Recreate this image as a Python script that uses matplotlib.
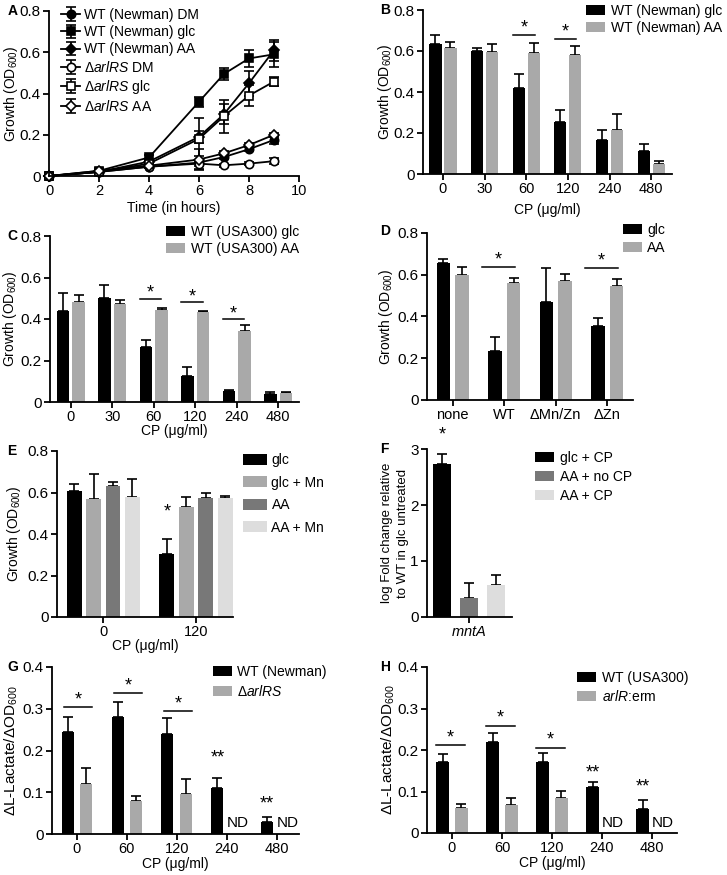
import numpy as np
import matplotlib
matplotlib.use('Agg')
import matplotlib.pyplot as plt
from matplotlib.ticker import FixedLocator, FuncFormatter

plt.rcParams['font.family'] = ['Liberation Sans', 'DejaVu Sans']
plt.rcParams['mathtext.fontset'] = 'custom'
plt.rcParams['mathtext.rm'] = 'Liberation Sans'
plt.rcParams['mathtext.it'] = 'Liberation Sans:italic'
plt.rcParams['mathtext.bf'] = 'Liberation Sans:bold'

# ---- A: growth curves ----
hours = [0, 2, 4, 6, 7, 8, 9]
wt_dm = [0, 0.02, 0.045, 0.065, 0.092, 0.13, 0.175]
wt_dm_err = [0, 0.005, 0.005, 0.03, 0.01, 0.01, 0.02]
wt_glc = [0, 0.025, 0.09, 0.36, 0.495, 0.57, 0.59]
wt_glc_err = [0, 0.005, 0.01, 0.025, 0.03, 0.04, 0.06]
wt_aa = [0, 0.02, 0.07, 0.19, 0.30, 0.45, 0.61]
wt_aa_err = [0, 0.005, 0.01, 0.03, 0.05, 0.06, 0.05]
mut_dm = [0, 0.02, 0.045, 0.06, 0.052, 0.06, 0.072]
mut_dm_err = [0, 0.005, 0.005, 0.01, 0.008, 0.008, 0.015]
mut_glc = [0, 0.02, 0.06, 0.18, 0.29, 0.39, 0.458]
mut_glc_err = [0, 0.005, 0.01, 0.1, 0.08, 0.05, 0.02]
mut_aa = [0, 0.025, 0.05, 0.08, 0.11, 0.15, 0.2]
mut_aa_err = [0, 0.005, 0.005, 0.05, 0.01, 0.01, 0.01]

# ---- B ----
cp_b = ['0', '30', '60', '120', '240', '480']
b_glc = [0.635, 0.600, 0.419, 0.256, 0.167, 0.110]
b_glc_err = [0.045, 0.017, 0.068, 0.056, 0.049, 0.036]
b_aa = [0.613, 0.597, 0.589, 0.581, 0.216, 0.05]
b_aa_err = [0.03, 0.036, 0.049, 0.044, 0.076, 0.012]
b_sig = [2, 3]
b_sig_line = [0.678, 0.657]

# ---- C ----
cp_c = ['0', '30', '60', '120', '240', '480']
c_glc = [0.437, 0.503, 0.265, 0.126, 0.053, 0.039]
c_glc_err = [0.09, 0.06, 0.032, 0.042, 0.007, 0.008]
c_aa = [0.484, 0.471, 0.445, 0.434, 0.34, 0.044]
c_aa_err = [0.031, 0.021, 0.008, 0.005, 0.031, 0.003]
c_sig = [2, 3, 4]
c_sig_line = [0.497, 0.48, 0.398]

# ---- D ----
d_groups = ['none', 'WT', 'ΔMn/Zn', 'ΔZn']
d_glc = [0.658, 0.235, 0.47, 0.355]
d_glc_err = [0.019, 0.069, 0.162, 0.04]
d_aa = [0.6, 0.562, 0.568, 0.544]
d_aa_err = [0.037, 0.024, 0.034, 0.037]
d_sig = [1, 3]
d_sig_line = [0.638, 0.632]

# ---- E ----
e_groups = ['0', '120']
e_glc = [0.609, 0.306]
e_glc_err = [0.031, 0.071]
e_glc_mn = [0.57, 0.528]
e_glc_mn_err = [0.117, 0.052]
e_aa = [0.633, 0.572]
e_aa_err = [0.019, 0.024]
e_aa_mn = [0.576, 0.573]
e_aa_mn_err = [0.089, 0.01]

# ---- F ----
f_labels = ['glc + CP', 'AA + no CP', 'AA + CP']
f_vals = [2.74, 0.34, 0.57]
f_errs = [0.17, 0.27, 0.18]

# ---- G ----
g_groups = ['0', '60', '120', '240', '480']
g_wt = [0.245, 0.28, 0.24, 0.11, 0.029]
g_wt_err = [0.036, 0.037, 0.037, 0.025, 0.011]
g_mut = [0.119, 0.08, 0.096]
g_mut_err = [0.04, 0.011, 0.035]
g_sig = [0, 1, 2]
g_sig_line = [0.304, 0.338, 0.295]
g_dstar = [0.181, 0.071]

# ---- H ----
h_groups = ['0', '60', '120', '240', '480']
h_wt = [0.17, 0.219, 0.17, 0.112, 0.059]
h_wt_err = [0.021, 0.022, 0.023, 0.012, 0.021]
h_mut = [0.06, 0.067, 0.084]
h_mut_err = [0.011, 0.017, 0.017]
h_sig = [0, 1, 2]
h_sig_line = [0.211, 0.259, 0.206]
h_dstar = [0.145, 0.112]

BLACK = '#000000'
GRAY = '#a9a9a9'
DARK = '#787878'
LIGHT = '#dddddd'

W, H = 727, 875
fig = plt.figure(figsize=(W / 100, H / 100), dpi=100)


def add_ax(l, t, r, b):
    return fig.add_axes([l / W, 1 - b / H, (r - l) / W, (b - t) / H])


def style(ax, yticks):
    for s in ['top', 'right']:
        ax.spines[s].set_visible(False)
    for s in ['left', 'bottom']:
        ax.spines[s].set_linewidth(1.3)
    ax.tick_params(direction='out', length=4, width=1.3, labelsize=11, pad=2)
    ax.tick_params(axis='x', labelsize=10.5)
    ax.yaxis.set_major_locator(FixedLocator(yticks))
    ax.yaxis.set_major_formatter(FuncFormatter(lambda v, p: '0' if v == 0 else f'{v:g}'))
    ax.set_ylim(yticks[0], yticks[-1])


def labels(ax, ylab, ylab_px, xlab=None, xlab_px=None, yfs=10):
    # ylab_px: gap from axis to right edge of y label; xlab_px: gap from axis to top of x label
    l, b, w, h = ax.get_position().bounds
    wpx, hpx = w * W, h * H
    ax.set_ylabel(ylab, fontsize=yfs)
    ax.yaxis.set_label_coords(-ylab_px / wpx, 0.5)
    if xlab:
        ax.set_xlabel(xlab, fontsize=10)
        ax.xaxis.set_label_coords(0.5, -xlab_px / hpx)


def bars(ax, x, vals, errs, color, width, label):
    ax.bar(x, vals, width, color=color, label=label, zorder=2)
    ax.errorbar(x, vals, yerr=[np.zeros(len(vals)), errs], fmt='none', ecolor='k',
                elinewidth=1.2, capsize=3.5, capthick=1.2, zorder=1)


def sig(ax, idx, ys, x0, x1, dy):
    for i, y in zip(idx, ys):
        ax.plot([i + x0, i + x1], [y, y], color='k', lw=1.1, clip_on=False)
        ax.text(i + (x0 + x1) / 2, y + dy, '*', ha='center', va='center', fontsize=13)


def leg(ax, x_px, first_px, spacing, hl=1.4, hh=0.72, pad=0.43, **kw):
    fs = 10
    ls = (spacing - 15.5) / (fs * 100 / 72)
    ax.legend(loc='upper left', bbox_to_anchor=(x_px / W, 1 - (first_px - 7.75) / H),
              bbox_transform=fig.transFigure, frameon=False, borderpad=0, borderaxespad=0,
              handlelength=hl, handleheight=hh, handletextpad=pad, labelspacing=ls,
              fontsize=fs, **kw)


def letter(x, y, s):
    fig.text(x / W, 1 - y / H, s, fontsize=10, fontweight='bold', va='center', ha='left')


# ---------- A ----------
ax = add_ax(49, 11, 299, 176)
series = [
    (wt_dm, wt_dm_err, 'o', 'k', 'WT (Newman) DM', 6),
    (wt_glc, wt_glc_err, 's', 'k', 'WT (Newman) glc', 6),
    (wt_aa, wt_aa_err, 'D', 'k', 'WT (Newman) AA', 5),
    (mut_dm, mut_dm_err, 'o', 'w', 'Δ$\\mathit{arlRS}$ DM', 6),
    (mut_glc, mut_glc_err, 's', 'w', 'Δ$\\mathit{arlRS}$ glc', 6),
    (mut_aa, mut_aa_err, 'D', 'w', 'Δ$\\mathit{arlRS}$ AA', 5),
]
for ys, es, m, fc, lab, ms in series:
    ax.errorbar(hours, ys, yerr=es, color='k', marker=m, mfc=fc, mec='k', mew=1.2, ms=ms,
                lw=1.3, capsize=3.5, capthick=1.2, elinewidth=1.2, label=lab, clip_on=False)
style(ax, [0, 0.2, 0.4, 0.6, 0.8])
ax.set_xlim(0, 10)
ax.set_xticks([0, 2, 4, 6, 8, 10])
labels(ax, 'Growth (OD$_{600}$)', 29, 'Time (in hours)', 25)
leg(ax, 61, 16, 18.6, hl=1.4, pad=0.25, numpoints=1)
letter(8, 11, 'A')

# ---------- B ----------
ax = add_ax(423, 10, 672, 174)
x = np.arange(len(cp_b))
bars(ax, x - 0.18, b_glc, b_glc_err, BLACK, 0.29, 'WT (Newman) glc')
bars(ax, x + 0.18, b_aa, b_aa_err, GRAY, 0.29, 'WT (Newman) AA')
style(ax, [0, 0.2, 0.4, 0.6, 0.8])
ax.set_xlim(-0.48, 5.5)
ax.set_xticks(x)
ax.set_xticklabels(cp_b)
sig(ax, b_sig, b_sig_line, -0.32, 0.2, 0.035)
labels(ax, 'Growth (OD$_{600}$)', 29, 'CP (μg/ml)', 29)
leg(ax, 586, 12, 18)
letter(380, 10, 'B')

# ---------- C ----------
ax = add_ax(50, 236, 299, 402)
x = np.arange(len(cp_c))
bars(ax, x - 0.19, c_glc, c_glc_err, BLACK, 0.3, 'WT (USA300) glc')
bars(ax, x + 0.19, c_aa, c_aa_err, GRAY, 0.3, 'WT (USA300) AA')
style(ax, [0, 0.2, 0.4, 0.6, 0.8])
ax.set_xlim(-0.5, 5.5)
ax.set_xticks(x)
ax.set_xticklabels(cp_c)
sig(ax, c_sig, c_sig_line, -0.34, 0.18, 0.028)
labels(ax, 'Growth (OD$_{600}$)', 31, 'CP (μg/ml)', 22)
leg(ax, 166, 233, 18)
letter(7, 236, 'C')

# ---------- D ----------
ax = add_ax(427, 233, 633, 400)
x = np.arange(len(d_groups))
bars(ax, x - 0.18, d_glc, d_glc_err, BLACK, 0.26, 'glc')
bars(ax, x + 0.18, d_aa, d_aa_err, GRAY, 0.26, 'AA')
style(ax, [0, 0.2, 0.4, 0.6, 0.8])
ax.set_xlim(-0.5, 3.5)
ax.set_xticks(x)
ax.set_xticklabels(d_groups)
sig(ax, d_sig, d_sig_line, -0.43, 0.21, 0.032)
labels(ax, 'Growth (OD$_{600}$)', 32)
leg(ax, 623, 231, 19, pad=0.36)
letter(380, 231, 'D')

# ---------- E ----------
ax = add_ax(57, 451, 233, 617)
x = np.arange(len(e_groups))
bars(ax, x - 0.315, e_glc, e_glc_err, BLACK, 0.16, 'glc')
bars(ax, x - 0.105, e_glc_mn, e_glc_mn_err, GRAY, 0.16, 'glc + Mn')
bars(ax, x + 0.105, e_aa, e_aa_err, DARK, 0.16, 'AA')
bars(ax, x + 0.315, e_aa_mn, e_aa_mn_err, LIGHT, 0.16, 'AA + Mn')
style(ax, [0, 0.2, 0.4, 0.6, 0.8])
ax.set_xlim(-0.5, 1.4)
ax.set_xticks(x)
ax.set_xticklabels(e_groups)
ax.text(1 - 0.315, 0.507, '*', ha='center', va='center', fontsize=13)
labels(ax, 'Growth (OD$_{600}$)', 34, 'CP (μg/ml)', 22)
leg(ax, 243, 461, 24, hl=1.75, hh=0.85, pad=0.3)
letter(7, 451, 'E')

# ---------- F ----------
ax = add_ax(427, 449, 512, 617)
f_cols = [BLACK, DARK, LIGHT]
for i, (v, e, c, lab) in enumerate(zip(f_vals, f_errs, f_cols, f_labels)):
    bars(ax, np.array([(i - 1) * 0.3]), [v], [e], c, 0.21, lab)
style(ax, [0, 1, 2, 3])
ax.set_xlim(-0.467, 0.478)
ax.set_xticks([0])
ax.set_xticklabels(['$\\mathit{mntA}$'])
ax.text(-0.3, 3.25, '*', ha='center', va='center', fontsize=13, clip_on=False)
labels(ax, 'log Fold change relative\nto WT in glc untreated', 18, yfs=9.5)
ax.yaxis.label.set_linespacing(1.45)
leg(ax, 535, 459, 20.5)
letter(380, 449, 'F')

# ---------- G ----------
ax = add_ax(52, 667, 299, 834)
x = np.arange(len(g_groups))
bars(ax, x - 0.187, g_wt, g_wt_err, BLACK, 0.24, 'WT (Newman)')
bars(ax, x[:len(g_mut)] + 0.187, g_mut, g_mut_err, GRAY, 0.24, 'Δ$\\mathit{arlRS}$')
style(ax, [0, 0.1, 0.2, 0.3, 0.4])
ax.set_xlim(-0.5, 4.45)
ax.set_xticks(x)
ax.set_xticklabels(g_groups)
sig(ax, g_sig, g_sig_line, -0.26, 0.31, 0.017)
for i, y in zip([3, 4], g_dstar):
    ax.text(i - 0.187, y, '**', ha='center', va='center', fontsize=13)
    ax.text(i + 0.22, 0.027, 'ND', ha='center', va='center', fontsize=11)
labels(ax, 'ΔL-Lactate/ΔOD$_{600}$', 32, 'CP (μg/ml)', 23, yfs=11)
leg(ax, 213, 673, 20, pad=0.36)
letter(7, 667, 'G')

# ---------- H ----------
ax = add_ax(427, 667, 677, 833)
x = np.arange(len(h_groups))
bars(ax, x - 0.187, h_wt, h_wt_err, BLACK, 0.26, 'WT (USA300)')
bars(ax, x[:len(h_mut)] + 0.187, h_mut, h_mut_err, GRAY, 0.26, '$\\mathit{arlR}$:erm')
style(ax, [0, 0.1, 0.2, 0.3, 0.4])
ax.set_xlim(-0.5, 4.5)
ax.set_xticks(x)
ax.set_xticklabels(h_groups)
sig(ax, h_sig, h_sig_line, -0.33, 0.25, 0.017)
for i, y in zip([3, 4], h_dstar):
    ax.text(i - 0.187, y, '**', ha='center', va='center', fontsize=13)
    ax.text(i + 0.22, 0.025, 'ND', ha='center', va='center', fontsize=11)
labels(ax, 'ΔL-Lactate/ΔOD$_{600}$', 30, 'CP (μg/ml)', 23, yfs=11)
leg(ax, 577, 679, 19)
letter(380, 667, 'H')

fig.savefig('out.png', dpi=100)
